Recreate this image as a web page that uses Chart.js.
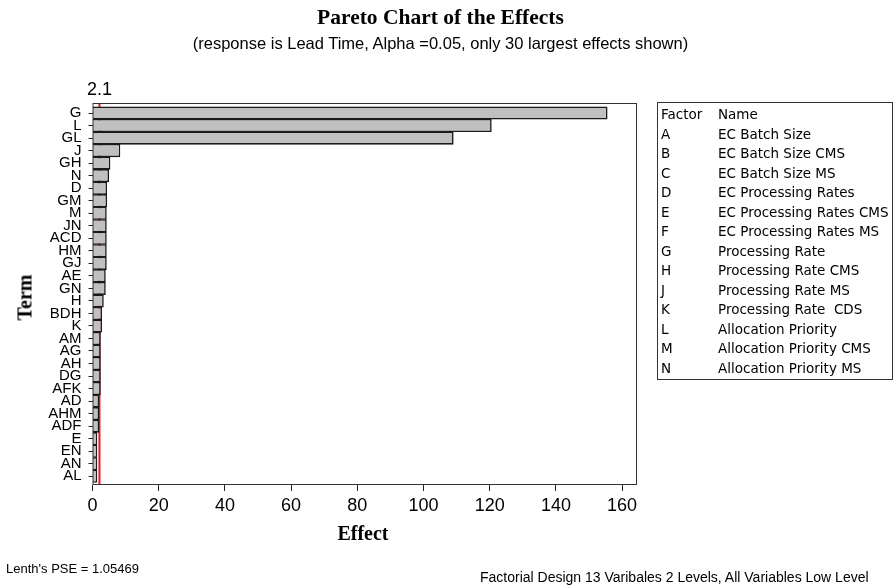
<!DOCTYPE html>
<html>
<head>
<meta charset="utf-8">
<script src="https://cdn.jsdelivr.net/npm/chart.js@4.4.1/dist/chart.umd.min.js"></script>
<style>
 html, body { margin: 0; padding: 0; background: #fff; }
 #wrap { position: relative; width: 895px; height: 585px; overflow: hidden; font-family: "Liberation Sans", sans-serif; color: #000; }
 #chart { position: absolute; left: 0; top: 0; }
 .txt { position: absolute; white-space: nowrap; }
 .serif { font-family: "Liberation Serif", serif; font-weight: bold; }
 #legend { position: absolute; left: 657px; top: 102px; width: 234px; height: 276px; border: 1px solid #333; font-family: "DejaVu Sans", sans-serif; font-size: 13.5px; }
 #legend div { position: absolute; white-space: nowrap; }
</style>
</head>
<body>
<div id="wrap">
 <canvas id="chart" width="895" height="585"></canvas>
 <div class="txt serif" style="left:0;width:895px;text-align:center;top:5px;font-size:21.5px;padding-right:14px;box-sizing:border-box;">Pareto Chart of the Effects</div>
 <div class="txt" style="left:0;width:895px;text-align:center;top:34px;font-size:16.5px;padding-right:14px;box-sizing:border-box;">(response is Lead Time, Alpha =0.05, only 30 largest effects shown)</div>
 <div class="txt serif" style="left:313px;width:100px;text-align:center;top:522px;font-size:20px;">Effect</div>
 <div class="txt serif" style="left:-25px;top:286px;width:100px;text-align:center;font-size:20px;transform:rotate(-90deg);">Term</div>
 <div class="txt" style="left:6px;top:561px;font-size:13px;">Lenth's PSE = 1.05469</div>
 <div class="txt" style="left:480px;top:569px;font-size:14px;">Factorial Design 13 Varibales 2 Levels, All Variables Low Level</div>
 <div id="legend"></div>
</div>
<script>
const terms = ['G', 'L', 'GL', 'J', 'GH', 'N', 'D', 'GM', 'M', 'JN', 'ACD', 'HM', 'GJ', 'AE', 'GN',
 'H', 'BDH', 'K', 'AM', 'AG', 'AH', 'DG', 'AFK', 'AD', 'AHM', 'ADF', 'E', 'EN', 'AN', 'AL'];
const effects = [155.6, 120.6, 109.1, 8.4, 5.4, 5.0, 4.4, 4.4, 4.3, 4.3, 4.3, 4.3, 4.3, 4.0, 4.0,
 3.4, 2.9, 2.9, 2.5, 2.5, 2.5, 2.5, 2.5, 2.0, 2.0, 2.0, 1.45, 1.45, 1.45, 1.45];
const criticalValue = 2.1;
const xTicks = [0, 20, 40, 60, 80, 100, 120, 140, 160];
const factorCodes = ['A', 'B', 'C', 'D', 'E', 'F', 'G', 'H', 'J', 'K', 'L', 'M', 'N'];
const factorNames = ['EC Batch Size', 'EC Batch Size CMS', 'EC Batch Size MS', 'EC Processing Rates',
 'EC Processing Rates CMS', 'EC Processing Rates MS', 'Processing Rate', 'Processing Rate CMS',
 'Processing Rate MS', 'Processing Rate  CDS', 'Allocation Priority', 'Allocation Priority CMS',
 'Allocation Priority MS'];

// legend table
const legend = document.getElementById('legend');
function addRow(i, a, b) {
 const y = 3 + i * 19.5;
 const c1 = document.createElement('div');
 c1.style.left = '3px'; c1.style.top = y + 'px'; c1.textContent = a;
 const c2 = document.createElement('div');
 c2.style.left = '60px'; c2.style.top = y + 'px'; c2.style.whiteSpace = 'pre'; c2.textContent = b;
 legend.appendChild(c1); legend.appendChild(c2);
}
addRow(0, 'Factor', 'Name');
factorCodes.forEach((c, i) => addRow(i + 1, c, factorNames[i]));

// red reference line + frame
const refLine = {
 id: 'refLine',
 beforeDatasetsDraw(chart) {
  const { ctx, chartArea, scales } = chart;
  const x = scales.x.getPixelForValue(criticalValue);
  ctx.save();
  ctx.strokeStyle = '#e8141c';
  ctx.lineWidth = 2;
  ctx.beginPath();
  ctx.moveTo(x, chartArea.top);
  ctx.lineTo(x, chartArea.bottom);
  ctx.stroke();
  ctx.fillStyle = '#000';
  ctx.font = '18px "Liberation Sans", sans-serif';
  ctx.textAlign = 'center';
  ctx.textBaseline = 'alphabetic';
  ctx.fillText(String(criticalValue), x, chartArea.top - 8);
  ctx.restore();
 },
 afterDatasetsDraw(chart) {
  const { ctx, chartArea } = chart;
  ctx.save();
  ctx.strokeStyle = '#333';
  ctx.lineWidth = 1;
  ctx.strokeRect(chartArea.left + 0.5, chartArea.top + 0.5, chartArea.width - 1, chartArea.height - 1);
  ctx.restore();
 }
};

const points = terms.map((t, i) => ({ x: effects[i], y: i }));

new Chart(document.getElementById('chart'), {
 type: 'bar',
 data: {
  datasets: [{
   data: points,
   backgroundColor: '#c0c0c0',
   borderColor: '#1a1a1a',
   borderWidth: 1.6,
   barPercentage: 1.05,
   categoryPercentage: 1
  }]
 },
 options: {
  indexAxis: 'y',
  responsive: false,
  animation: false,
  layout: { padding: { top: 103, right: 258, left: 0, bottom: 0 } },
  plugins: { legend: { display: false }, tooltip: { enabled: false } },
  scales: {
   x: {
    type: 'linear',
    min: 0,
    max: 164.5,
    afterBuildTicks: s => { s.ticks = xTicks.map(v => ({ value: v })); },
    afterFit: s => { s.height = 100; },
    border: { display: false },
    grid: { drawOnChartArea: false, drawTicks: true, tickLength: 6, color: '#222' },
    ticks: { color: '#000', font: { family: 'Liberation Sans', size: 18 }, padding: 4, maxRotation: 0 }
   },
   y: {
    type: 'linear',
    reverse: true,
    offset: false,
    min: -0.8,
    max: 29.7,
    afterBuildTicks: s => { s.ticks = terms.map((t, i) => ({ value: i })); },
    afterFit: s => { s.width = 92.5; },
    border: { display: false },
    grid: { offset: false, drawOnChartArea: false, drawTicks: true, tickLength: 4, color: '#222' },
    ticks: {
     color: '#000',
     font: { family: 'Liberation Sans', size: 15 },
     padding: 7,
     autoSkip: false,
     callback: v => terms[v]
    }
   }
  }
 },
 plugins: [refLine]
});
</script>
</body>
</html>
